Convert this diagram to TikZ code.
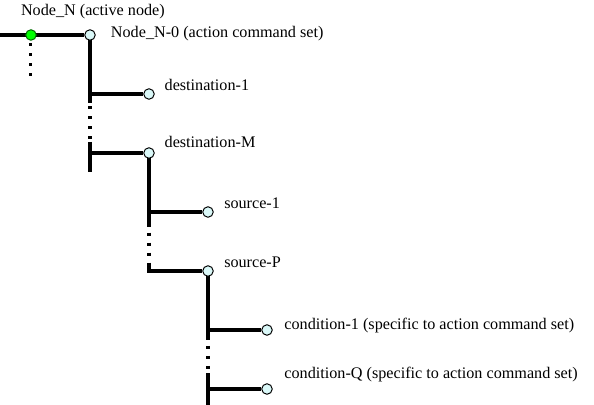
\documentclass[tikz,border=0pt]{standalone}
\usepackage{fontspec}
\setmainfont{Liberation Serif}
\usepackage{tikz}
\usetikzlibrary{backgrounds}
\usetikzlibrary{positioning}
\definecolor{leafcol}{RGB}{218,248,248}
\tikzset{every picture/.style={line width=2.2pt},
  trunk/.style={line width=2.2pt,black},
  gapline/.style={line width=2.2pt,dash pattern=on 2.2pt off 5pt},
  leaf/.style={circle,draw=black,line width=0.7pt,fill=leafcol,minimum size=7.6pt,inner sep=0pt},
  active/.style={leaf,fill=green,draw=green!40!black},
  lbl/.style={anchor=west,inner sep=0pt,font=\fontsize{11.7}{14}\selectfont}}

\begin{document}
\begin{tikzpicture}[x=1.5cm,y=1.5cm]
\useasboundingbox (-1.525,0.593) rectangle (8.542,-6.271);
% the tree nodes
\coordinate (start) at (-1.525,0);
\node[active] (nn) at (-1,0) {};
\node[leaf] (n0) at (0,0) {};
\node[leaf] (d1) at (1,-1) {};
\node[leaf] (dm) at (1,-2) {};
\node[leaf] (s1) at (2,-3) {};
\node[leaf] (sp) at (2,-4) {};
\node[leaf] (c1) at (3,-5) {};
\node[leaf] (cq) at (3,-6) {};
% texts
\node[lbl,anchor=center] (tnn) at (0.05,0.39) {Node\_N (active node)};
\node[lbl] (tn0) at (0.33,0.03) {Node\_N-0 (action command set)};
\node[lbl] (td1) at (1.24,-0.85) {destination-1};
\node[lbl] (tdm) at (1.24,-1.81) {destination-M};
\node[lbl] (ts1) at (2.25,-2.85) {source-1};
\node[lbl] (tsp) at (2.25,-3.86) {source-P};
\node[lbl] (tc1) at (3.27,-4.92) {condition-1 (specific to action command set)};
\node[lbl] (tcq) at (3.27,-5.76) {condition-Q (specific to action command set)};
% ends of the vertical lines
\coordinate (nnend) at (-1,-0.81);
\coordinate (a1) at (0,-1.15); \coordinate (a2) at (0,-1.81); \coordinate (a3) at (0,-2.32);
\coordinate (b1) at (1,-3.25); \coordinate (b2) at (1,-3.9);
\coordinate (e1) at (2,-5.17); \coordinate (e2) at (2,-5.73); \coordinate (e3) at (2,-6.271);
\begin{scope}[on background layer]
\draw[trunk] (start) -- (n0);
\draw[gapline] (nn.center) ++(0,-0.14) -- (nnend);
% level of destinations
\draw[trunk] (n0.center) -- (a1);
\draw[gapline] (a1) ++(0,-0.06) -- (a2);
\draw[trunk] (a2) -- (a3);
\draw[trunk] (n0.center |- d1) -- (d1);
\draw[trunk] (n0.center |- dm) -- (dm);
% level of sources
\draw[trunk] (dm.center) -- (b1);
\draw[gapline] (b1) ++(0,-0.1) -- (b2);
\draw[trunk] (b2) -- (dm.center |- sp) -- (sp);
\draw[trunk] (dm.center |- s1) -- (s1);
% level of conditions
\draw[trunk] (sp.center) -- (e1);
\draw[gapline] (e1) ++(0,-0.1) -- (e2);
\draw[trunk] (e2) -- (e3);
\draw[trunk] (sp.center |- c1) -- (c1);
\draw[trunk] (sp.center |- cq) -- (cq);
\end{scope}
\end{tikzpicture}
\end{document}
